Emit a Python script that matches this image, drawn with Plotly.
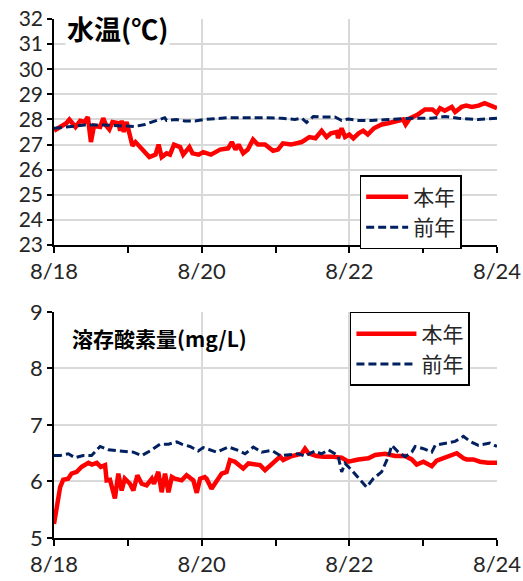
import plotly.graph_objects as go
from plotly.subplots import make_subplots

# ---- data (hours since 8/18 00:00) ----
tick_vals = [0, 48, 96, 144]
tick_text = ["8/18", "8/20", "8/22", "8/24"]

temp_now_h = [0, 2, 4, 5, 7, 8.5, 10, 11, 12, 13, 15, 16, 17, 18, 19, 21, 21.5, 22, 22.7, 23.6,
              24.7, 25.5, 26.5, 28, 29.6, 31, 33, 34, 35, 36.6, 37.7, 39, 41, 42, 44, 45, 47, 48.5,
              51, 54, 56.6, 57.8, 59, 60, 61.5, 63, 64.7, 66.3, 68.6, 71.2, 72.8, 74.4, 77, 80.5,
              83, 85, 87, 88.6, 90, 92, 92.3, 93.5, 94.6, 96, 97.3, 99, 100.5, 102, 104, 106.5,
              108.6, 111.8, 113.5, 114.3, 115.7, 118.3, 120.6, 123, 124.4, 125.5, 127, 129.3,
              130.4, 132.5, 134, 135.8, 138, 140, 142.3, 144]
temp_now = [27.55, 27.7, 27.85, 28.0, 27.7, 27.95, 27.9, 28.1, 27.1, 27.75, 27.7, 28.05, 27.75, 27.6,
            27.9, 27.85, 27.55, 27.95, 27.5, 27.9, 27.25, 26.95, 27.1, 26.9, 26.65, 26.5, 26.6, 27.0,
            26.5, 26.65, 26.6, 27.0, 26.9, 26.6, 26.9, 26.65, 26.6, 26.7, 26.6, 26.8, 26.85, 27.1,
            26.8, 27.0, 26.65, 26.8, 27.2, 27.0, 27.0, 26.75, 26.8, 27.05, 27.0, 27.1, 27.3, 27.25,
            27.55, 27.3, 27.45, 27.5, 27.25, 27.65, 27.3, 27.4, 27.25, 27.45, 27.55, 27.4, 27.65,
            27.8, 27.85, 27.95, 28.0, 27.8, 28.05, 28.2, 28.4, 28.4, 28.25, 28.45, 28.35, 28.5,
            28.3, 28.5, 28.55, 28.5, 28.55, 28.65, 28.55, 28.45]

temp_prev_h = [0, 5, 10, 15.4, 20.8, 26.2, 29.5, 32.7, 36, 36.6, 39.8, 42.5, 45.8, 49, 56.7, 67.5,
               74, 78.3, 80.5, 82.1, 84.3, 87, 91.3, 93.5, 95.7, 98.9, 103.3, 108.7, 116.3, 122.8,
               127.1, 131.4, 137.9, 140.1, 144]
temp_prev = [27.65, 27.7, 27.78, 27.78, 27.75, 27.72, 27.8, 27.94, 28.07, 27.96, 28.0, 27.94, 27.94,
             28.0, 28.07, 28.07, 28.05, 28.0, 28.05, 27.88, 28.12, 28.1, 28.1, 27.96, 28.02, 27.96,
             27.96, 28.0, 28.05, 28.05, 28.12, 28.05, 28.0, 28.02, 28.05]

do_now_h = [0, 1, 2, 3, 4.6, 5.7, 7.4, 9, 11.2, 12.3, 13.9, 15.2, 16.6, 17.1, 18.2, 19.8, 20.9, 22,
            23, 24.7, 25.8, 27.1, 28.5, 30.1, 31.8, 32.5, 33.9, 35, 36.1, 37.2, 38.3, 39.3, 41.5,
            43.1, 45.3, 46.4, 47.5, 49, 49.6, 51.2, 52.9, 54.5, 56.1, 57.2, 58.8, 61.5, 63.2, 67,
            68.6, 71.8, 73.5, 74.5, 77.3, 80.5, 81.6, 82.7, 85.4, 87.6, 90.3, 93.5, 95.7, 98.9,
            102.2, 104.4, 107.6, 110.9, 114.1, 116.3, 117.9, 120.1, 122.8, 124.4, 127.1, 130.9,
            133.1, 134.1, 136.3, 138.5, 141, 144]
do_now = [5.25, 5.6, 5.9, 6.03, 6.05, 6.14, 6.17, 6.26, 6.33, 6.30, 6.33, 6.26, 6.29, 6.02, 6.03,
          5.70, 6.14, 5.84, 6.05, 5.96, 5.84, 6.11, 5.96, 5.93, 6.05, 5.96, 6.17, 5.81, 6.14, 5.81,
          6.08, 6.05, 6.02, 6.11, 6.02, 5.8, 6.05, 6.08, 6.05, 5.87, 6.0, 6.14, 6.17, 6.38, 6.35,
          6.23, 6.32, 6.29, 6.20, 6.35, 6.44, 6.38, 6.45, 6.49, 6.58, 6.50, 6.45, 6.44, 6.44, 6.42,
          6.35, 6.39, 6.41, 6.47, 6.49, 6.45, 6.45, 6.39, 6.30, 6.35, 6.27, 6.37, 6.42, 6.50, 6.41,
          6.39, 6.39, 6.35, 6.33, 6.33]

do_prev_h = [0, 2, 4.7, 6.8, 9.5, 12.2, 15, 17.7, 21.5, 25.8, 28.5, 31.2, 34.5, 37.2, 39.9, 41.5,
             44.2, 46.9, 48.5, 52.9, 56.7, 59.9, 62.1, 64.8, 67.5, 70.8, 73.5, 76.2, 79.4, 81.6,
             84.8, 87, 89.2, 91.3, 92.4, 93.5, 94.6, 96.8, 99.5, 101.6, 103.8, 106.5, 108.7, 109.8,
             111.9, 114.1, 116.3, 117.4, 120.1, 122.8, 123.9, 127.1, 130.4, 133.1, 135.2, 138,
             140.1, 141.7, 144]
do_prev = [6.46, 6.46, 6.49, 6.42, 6.46, 6.46, 6.62, 6.56, 6.54, 6.52, 6.46, 6.54, 6.66, 6.66, 6.70,
           6.66, 6.62, 6.54, 6.60, 6.52, 6.61, 6.55, 6.49, 6.61, 6.52, 6.55, 6.46, 6.47, 6.49, 6.45,
           6.54, 6.49, 6.56, 6.49, 6.44, 6.17, 6.32, 6.20, 6.02, 5.90, 6.05, 6.17, 6.44, 6.64, 6.52,
           6.44, 6.52, 6.62, 6.58, 6.52, 6.64, 6.67, 6.71, 6.80, 6.71, 6.64, 6.67, 6.68, 6.62]

RED = "#FF0000"
NAVY = "#002060"
FONT = "Lato, 'Noto Sans CJK JP', sans-serif"
CJK = "'Noto Sans CJK JP', sans-serif"
DASH = "8px,4px"

fig = make_subplots(rows=2, cols=1, vertical_spacing=0.1)

fig.add_trace(go.Scatter(x=temp_now_h, y=temp_now, mode="lines", name="本年",
                         line=dict(color=RED, width=4.5), legend="legend"), row=1, col=1)
fig.add_trace(go.Scatter(x=temp_prev_h, y=temp_prev, mode="lines", name="前年",
                         line=dict(color=NAVY, width=3, dash=DASH), legend="legend"), row=1, col=1)
fig.add_trace(go.Scatter(x=do_now_h, y=do_now, mode="lines", name="本年",
                         line=dict(color=RED, width=4.5), legend="legend2"), row=2, col=1)
fig.add_trace(go.Scatter(x=do_prev_h, y=do_prev, mode="lines", name="前年",
                         line=dict(color=NAVY, width=3, dash=DASH), legend="legend2"), row=2, col=1)

xcommon = dict(range=[0, 144], tickvals=tick_vals, ticktext=tick_text, showgrid=True,
               gridcolor="#D9D9D9", gridwidth=1.5, showline=True, linecolor="black", linewidth=1.5,
               ticks="outside", ticklen=6, tickwidth=1.5, tickcolor="black",
               minor=dict(tickvals=[24, 72, 120], ticks="outside", ticklen=6, tickwidth=1.5,
                          tickcolor="black", showgrid=False),
               tickfont=dict(family=FONT, size=22, color="#262626"), zeroline=False,
               automargin=False, domain=[0, 1])
fig.update_xaxes(**xcommon)

fig.update_yaxes(row=1, col=1, range=[23, 32], dtick=1, domain=[0.5645, 1],
                 tickfont=dict(family=FONT, size=21, color="#262626"))
fig.update_yaxes(row=2, col=1, range=[5, 9], dtick=1, domain=[0, 0.4355],
                 tickfont=dict(family=FONT, size=22, color="#262626"))
fig.update_yaxes(showgrid=True, gridcolor="#D9D9D9", gridwidth=1.5, showline=True,
                 linecolor="black", linewidth=1.5, ticks="outside", ticklen=5, tickwidth=1.5,
                 tickcolor="black", zeroline=False, automargin=False)

fig.add_annotation(text="<b>水温(℃)</b>", xref="x domain", yref="y domain", x=0.025, y=0.96,
                   xanchor="left", yanchor="middle", showarrow=False, bgcolor="white",
                   font=dict(family=CJK, size=27, color="black"))
fig.add_annotation(text="<b>溶存酸素量(mg/L)</b>", xref="x2 domain", yref="y2 domain", x=0.035,
                   y=0.885, xanchor="left", yanchor="middle", showarrow=False,
                   font=dict(family=CJK, size=21, color="black"))

legend_style = dict(bgcolor="white", bordercolor="black", borderwidth=1.5,
                    font=dict(family=CJK, size=21, color="#262626"),
                    xanchor="left", yanchor="top", tracegroupgap=0)
fig.update_layout(
    width=523, height=581,
    margin=dict(l=54, r=26, t=19, b=43, autoexpand=False),
    paper_bgcolor="white", plot_bgcolor="white",
    legend=dict(x=0.69, y=0.699, itemwidth=42, **legend_style),
    legend2=dict(x=0.668, y=0.4355, itemwidth=60, **legend_style),
)

fig.write_html("out.html", config={"displayModeBar": False},
               post_script="document.body.style.margin='0';document.body.style.overflow='hidden';")
